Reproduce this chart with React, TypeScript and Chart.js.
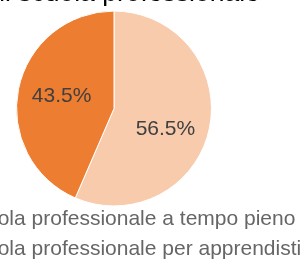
import React, { useEffect, useRef } from "react";
import { Chart, registerables } from "chart.js";

Chart.register(...registerables);

const titleLines = ["Allievi per tipo", "e di scuola professionale"];
const categories = [
  "Scuola professionale a tempo pieno",
  "Scuola professionale per apprendisti",
];
const shares = [56.5, 43.5];
const colors = ["#F8CBAD", "#ED7D31"];
// small text nudges for the percentage labels (style only)
const labelNudge = [
  [-3, 9],
  [2, -1],
];

const FONT = "'Liberation Sans', Arial, Helvetica, sans-serif";

const sliceLabels = {
  id: "sliceLabels",
  afterDatasetsDraw(chart: any) {
    const ctx = chart.ctx;
    const meta = chart.getDatasetMeta(0);
    const data = chart.data.datasets[0].data as number[];
    const total = data.reduce((a, b) => a + b, 0);
    ctx.save();
    ctx.font = `21px ${FONT}`;
    ctx.fillStyle = "#404040";
    ctx.textAlign = "center";
    ctx.textBaseline = "middle";
    meta.data.forEach((arc: any, i: number) => {
      const { x, y, startAngle, endAngle, outerRadius } = arc.getProps(
        ["x", "y", "startAngle", "endAngle", "outerRadius"],
        true
      );
      const mid = (startAngle + endAngle) / 2;
      const r = outerRadius * 0.57;
      const txt = ((data[i] / total) * 100).toFixed(1) + "%";
      const [dx, dy] = labelNudge[i] || [0, 0];
      ctx.fillText(txt, x + Math.cos(mid) * r + dx, y + Math.sin(mid) * r + dy);
    });
    ctx.restore();
  },
};

export default function App() {
  const ref = useRef<HTMLCanvasElement | null>(null);
  useEffect(() => {
    if (!ref.current) return;
    const chart = new Chart(ref.current, {
      type: "pie",
      data: {
        labels: categories,
        datasets: [
          {
            data: shares,
            backgroundColor: colors,
            borderColor: "#ffffff",
            borderWidth: 1,
            radius: "107.1%",
          } as any,
        ],
      },
      options: {
        animation: false,
        responsive: false,
        devicePixelRatio: 1,
        layout: { padding: 0 },
        plugins: {
          title: {
            display: true,
            text: titleLines,
            color: "#000000",
            font: { family: FONT, size: 26.5, weight: "normal" as any },
            padding: { top: 8, bottom: 7.4 },
          },
          legend: {
            position: "bottom",
            align: "start",
            labels: {
              color: "#666666",
              font: { family: FONT, size: 21 },
              padding: 9,
              boxWidth: 40,
            },
          },
          tooltip: { enabled: false },
        },
      },
      plugins: [sliceLabels],
    });
    return () => chart.destroy();
  }, []);
  return (
    <div
      style={{
        position: "fixed",
        left: 0,
        top: 0,
        width: 307,
        height: 264,
        overflow: "hidden",
        background: "#ffffff",
      }}
    >
      <div style={{ position: "absolute", left: -98, top: -62 }}>
        <canvas ref={ref} width={424} height={332} style={{ display: "block" }} />
      </div>
    </div>
  );
}
